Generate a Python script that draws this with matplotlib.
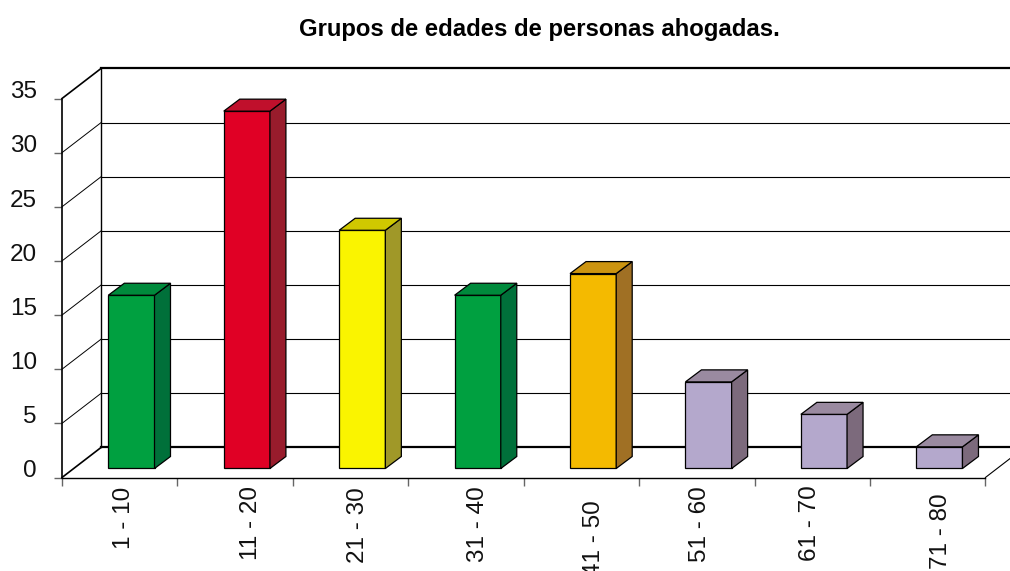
"""
Grupos de edades de personas ahogadas - 3D style bar chart
"""

import matplotlib
matplotlib.use("Agg")
import matplotlib.pyplot as plt

plt.rcParams['font.family'] = ['Liberation Sans', 'DejaVu Sans']

# Data
categories = ['1 - 10', '11 - 20', '21 - 30', '31 - 40', '41 - 50', '51 - 60', '61 - 70', '71 - 80']
values = [16, 33, 22, 16, 18, 8, 5, 2]
y_ticks = [0, 5, 10, 15, 20, 25, 30, 35]

# (front, side, top) colours for each bar
GREEN = ('#00A040', '#00703A', '#008A3C')
RED = ('#E00025', '#981C2C', '#C0102C')
YELLOW = ('#FAF400', '#A09828', '#D0C800')
ORANGE = ('#F4BA00', '#A07024', '#CC9410')
LAVENDER = ('#B4A8CC', '#7C6A7C', '#9A8AA0')
bar_colors = [GREEN, RED, YELLOW, GREEN, ORANGE, LAVENDER, LAVENDER, LAVENDER]

W, H = 1010, 571
LEFT, RIGHT, TOP, BOTTOM = 62, 985.4, 98.5, 477.5

# depth of the box in data units
DX = 39 / 115.4
DY = 30 / 54.14 * 5

BAR_W = 0.4

# the category labels are not evenly placed in the original (pixels)
LABEL_X = [124, 251, 358, 478, 594, 700, 810, 941]
LABEL_TOP = [487, 486, 487, 486, 500, 486, 485, 493]


def main():
    fig = plt.figure(figsize=(W / 100, H / 100), dpi=100)
    ax = fig.add_axes([LEFT / W, 1 - BOTTOM / H, (RIGHT - LEFT) / W, (BOTTOM - TOP) / H])
    ax.set_xlim(0, len(categories))
    ax.set_ylim(0, 35)
    ax.patch.set_visible(False)
    for s in ['top', 'right']:
        ax.spines[s].set_visible(False)
    ax.spines['left'].set_linewidth(1.2)
    ax.spines['bottom'].set_linewidth(1.0)

    # walls and gridlines
    xmax = len(categories)
    for v in y_ticks:
        lw = 1.6 if v in (0, 35) else 0.8
        ax.plot([0, DX], [v, v + DY], color='black', lw=1.2 if v in (0, 35) else 0.7, clip_on=False, zorder=1)
        ax.plot([DX, xmax + DX], [v + DY, v + DY], color='black', lw=lw, clip_on=False, zorder=1)
    ax.plot([DX, DX], [DY, 35 + DY], color='black', lw=1.0, clip_on=False, zorder=1)
    ax.plot([xmax, xmax + DX], [0, DY], color='black', lw=0.8, clip_on=False, zorder=1)

    # bars
    dx = DX * 0.41
    dy = DY * 0.4
    for i, (v, c) in enumerate(zip(values, bar_colors)):
        x0 = i + 0.5 + DX * 0.3 - BAR_W / 2
        x1 = x0 + BAR_W
        y0 = DY * 0.3
        y1 = v + y0
        ax.fill([x0, x1, x1, x0], [y0, y0, y1, y1], facecolor=c[0], edgecolor='black', lw=0.9, clip_on=False, zorder=3)
        ax.fill([x1, x1 + dx, x1 + dx, x1], [y0, y0 + dy, y1 + dy, y1], facecolor=c[1], edgecolor='black', lw=0.9, clip_on=False, zorder=3)
        ax.fill([x0, x1, x1 + dx, x0 + dx], [y1, y1, y1 + dy, y1 + dy], facecolor=c[2], edgecolor='black', lw=0.9, clip_on=False, zorder=3)

    # ticks
    ax.set_yticks(y_ticks)
    ax.set_yticklabels([])
    ax.tick_params(axis='y', length=6, width=1, color='#666666')
    ax.set_xticks(range(len(categories) + 1))
    ax.set_xticklabels([])
    ax.tick_params(axis='x', length=5.5, width=1, color='#666666')

    # y labels sit a little above their ticks
    for v in y_ticks:
        ax.annotate(str(v), xy=(0, v), xytext=(-18, 4.5), textcoords='offset points', fontsize=17.5,
                    color='#111111', ha='right', va='center')

    for name, x, top in zip(categories, LABEL_X, LABEL_TOP):
        fig.text(x / W, 1 - top / H, name, rotation=90, fontsize=17.5, color='#111111', ha='center', va='top')

    fig.text(539 / W, 1 - 29.5 / H, 'Grupos de edades de personas ahogadas.', fontsize=17.2,
             fontweight='bold', ha='center', va='center', color='black')

    fig.savefig('out.png', dpi=100)


if __name__ == "__main__":
    main()
